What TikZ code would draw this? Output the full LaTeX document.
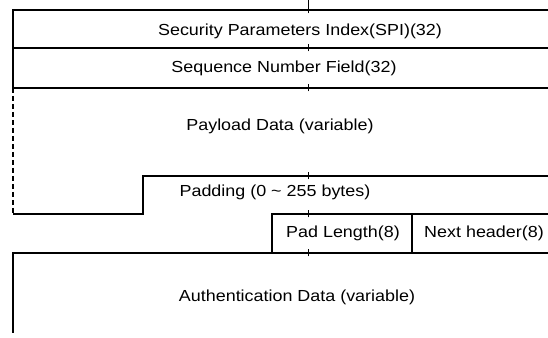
\documentclass[tikz,border=0pt]{standalone}
\usepackage{fontspec}
\setmainfont{Liberation Sans}[FakeStretch=1.12]
\usepackage{tikz}

\begin{document}
\begin{tikzpicture}[
  x=1pt, y=1pt,
  rule/.style={line width=1.1pt},
  field/.style={inner sep=0pt,font=\fontsize{16}{18}\selectfont},
  tick/.style={line width=0.6pt}
]
  \useasboundingbox (0,0) rectangle (548,337);
  \node[field] (spi) at (300,306) {Security Parameters Index(SPI)(32)};
  \node[field] (seq) at (284,269) {Sequence Number Field(32)};
  \node[field] (payload) at (280,211) {Payload Data (variable)};
  \node[field] (padding) at (275,145) {Padding (0 \textasciitilde\ 255 bytes)};
  \node[field] (padlen) at (343,104) {Pad Length(8)};
  \node[field] (nexthdr) at (484,104) {Next header(8)};
  \node[field] (auth) at (297,40) {Authentication Data (variable)};
  \draw[rule] (548,327) -- (13,327) -- (13,249) -- (548,249);
  \draw[rule] (13,289) -- (548,289);
  \draw[rule,dash pattern=on 5pt off 3pt] (13,249) -- (13,123);
  \draw[rule] (13,123) -- (143,123) -- (143,161) -- (548,161);
  \draw[rule] (548,123) -- (272,123) -- (272,84);
  \draw[rule] (412,123) -- (412,84);
  \draw[rule] (548,84) -- (13,84) -- (13,4);
  \foreach \y in {327,289,249,161,123,84}
    \draw[tick] (308,\y-3.5) -- (308,\y+3.5);
  \draw[tick] (308,337) -- (308,331);
\end{tikzpicture}
\end{document}
